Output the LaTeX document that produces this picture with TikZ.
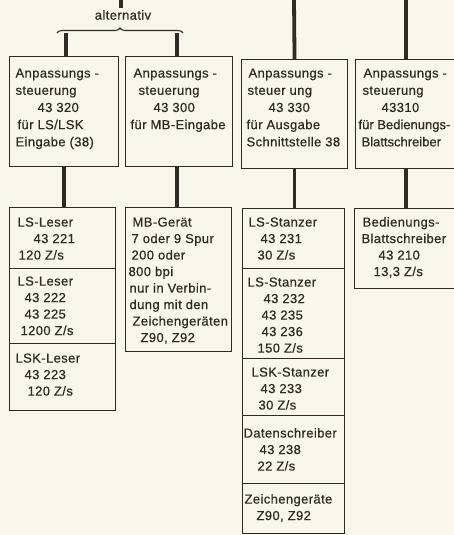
\documentclass[tikz,border=0pt]{standalone}
\usepackage{xcolor}
\usepackage{fontspec}
\setmainfont[LetterSpace=3, FakeBold=0.6]{Liberation Sans}
\usepackage{tikz}
\usetikzlibrary{decorations.pathreplacing}
\definecolor{paper}{HTML}{F8F7EC}
\definecolor{ink}{HTML}{2F2A25}
% one line of a cell: indent, text
\newcommand{\zl}[2]{\hspace*{#1pt}#2\par}
% cell body: width, height, first baseline, lines
\newcommand{\cellbox}[4]{\parbox[c][#2pt][t]{#1pt}{\leavevmode\rule{0pt}{#3pt}#4}}

\begin{document}
\begin{tikzpicture}[x=1pt, y=-1pt,
		cell/.style={draw=ink, line width=1.1pt, inner sep=0pt, anchor=north west, text=ink, font=\fontsize{13}{16.5}\selectfont},
		topcell/.style={cell, font=\fontsize{13}{17.2}\selectfont},
		conn/.style={draw=ink, line width=3.8pt},
		brace/.style={draw=ink, line width=1.1pt, decorate, decoration={brace, amplitude=5pt}} ]

		\useasboundingbox (0,0) rectangle (454,535);
		\fill[paper] (0,0) rectangle (454,535);
		\clip (0,0) rectangle (454,535);

		% Anpassungssteuerungen
		\node[topcell] (ap1) at (9,56) {\cellbox{109}{110}{21}{\zl{6}{Anpassungs -}\zl{6}{steuerung}\zl{28}{43 320}\zl{8}{für LS/LSK}\zl{6}{Eingabe (38)}}};
		\node[topcell] (ap2) at (125,56) {\cellbox{107}{110}{21}{\zl{8}{Anpassungs -}\zl{13}{steuerung}\zl{28}{43 300}\zl{5}{für MB-Eingabe}}};
		\node[topcell] (ap3) at (241,59) {\cellbox{106}{109}{18}{\zl{7}{Anpassungs -}\zl{6}{steuer ung}\zl{27}{43 330}\zl{5}{für Ausgabe}\zl{5}{Schnittstelle 38}}};
		\node[topcell] (ap4) at (355,59) {\cellbox{115}{109}{18}{\zl{8}{Anpassungs -}\zl{7}{steuerung}\zl{26}{43310}\zl{3}{\addfontfeature{LetterSpace=0}für Bedienungs-}\zl{6}{Blattschreiber}}};

		% Leser
		\node[cell] (le1) at (9,207) {\cellbox{106}{61}{19}{\zl{8}{LS-Leser}\zl{24}{43 221}\zl{9}{120 Z/s}}};
		\node[cell] (le2) at (9,268) {\cellbox{106}{75}{17}{\zl{8}{LS-Leser}\zl{15}{43 222}\zl{15}{43 225}\zl{11}{1200 Z/s}}};
		\node[cell] (le3) at (9,343) {\cellbox{106}{67}{19}{\zl{6}{LSK-Leser}\zl{15}{43 223}\zl{18}{120 Z/s}}};

		% MB
		\node[cell] (mb) at (125,207) {\cellbox{106}{144}{19}{\zl{7}{MB-Gerät}\zl{6}{7 oder 9 Spur}\zl{6}{200 oder}\zl{3}{800 bpi}\zl{4}{nur in Verbin-}\zl{4}{dung mit den}\zl{7}{Zeichengeräten}\zl{15}{Z90, Z92}}};

		% Stanzer
		\node[cell] (st1) at (242,208) {\cellbox{102}{60}{18}{\zl{6}{LS-Stanzer}\zl{18}{43 231}\zl{15}{30 Z/s}}};
		\node[cell] (st2) at (242,268) {\cellbox{102}{90}{18}{\zl{5}{LS-Stanzer}\zl{21}{43 232}\zl{19}{43 235}\zl{19}{43 236}\zl{15}{150 Z/s}}};
		\node[cell] (st3) at (242,358) {\cellbox{102}{57}{18}{\zl{9}{LSK-Stanzer}\zl{18}{43 233}\zl{16}{30 Z/s}}};
		\node[cell] (st4) at (242,415) {\cellbox{102}{68}{22}{\zl{1}{Datenschreiber}\zl{17}{43 238}\zl{15}{22 Z/s}}};
		\node[cell] (st5) at (242,483) {\cellbox{102}{50}{20}{\zl{2}{Zeichengeräte}\zl{14}{Z90, Z92}}};

		% Blattschreiber
		\node[cell] (bs) at (354,208) {\cellbox{115}{80}{18}{\zl{8}{Bedienungs-}\zl{7}{Blattschreiber}\zl{24}{43 210}\zl{19}{13,3 Z/s}}};

		% Zuleitungen von oben
		\node[text=ink, font=\fontsize{13}{15}\selectfont, inner sep=2pt] (alt) at (123,15) {alternativ};
		\coordinate (top0) at (121,0);
		\coordinate (top3) at (294,0);
		\coordinate (top4) at (406,0);
		\coordinate (bl) at (57,33);
		\coordinate (br) at (183,33);
		\draw[conn] (top0) -- (top0 |- alt.north);
		\draw[brace] (bl) -- (br);
		\draw[conn] ([xshift=2pt]ap1.north) -- ([xshift=2pt]ap1.north |- bl);
		\draw[conn] ([xshift=-2pt]ap2.north) -- ([xshift=-2pt]ap2.north |- bl);
		\draw[conn] (top3) -- (ap3.north);
		\draw[conn] (top4) -- (top4 |- ap4.north);

		% Verbindungen zu den Geraeten
		\draw[conn] (ap1.south) -- (ap1.south |- le1.north);
		\draw[conn] ([xshift=-2pt]ap2.south) -- ([xshift=-2pt]ap2.south |- mb.north);
		\draw[conn] (ap3.south) -- (ap3.south |- st1.north);
		\draw[conn] (top4 |- ap4.south) -- (top4 |- bs.north);
	\end{tikzpicture}
\end{document}
